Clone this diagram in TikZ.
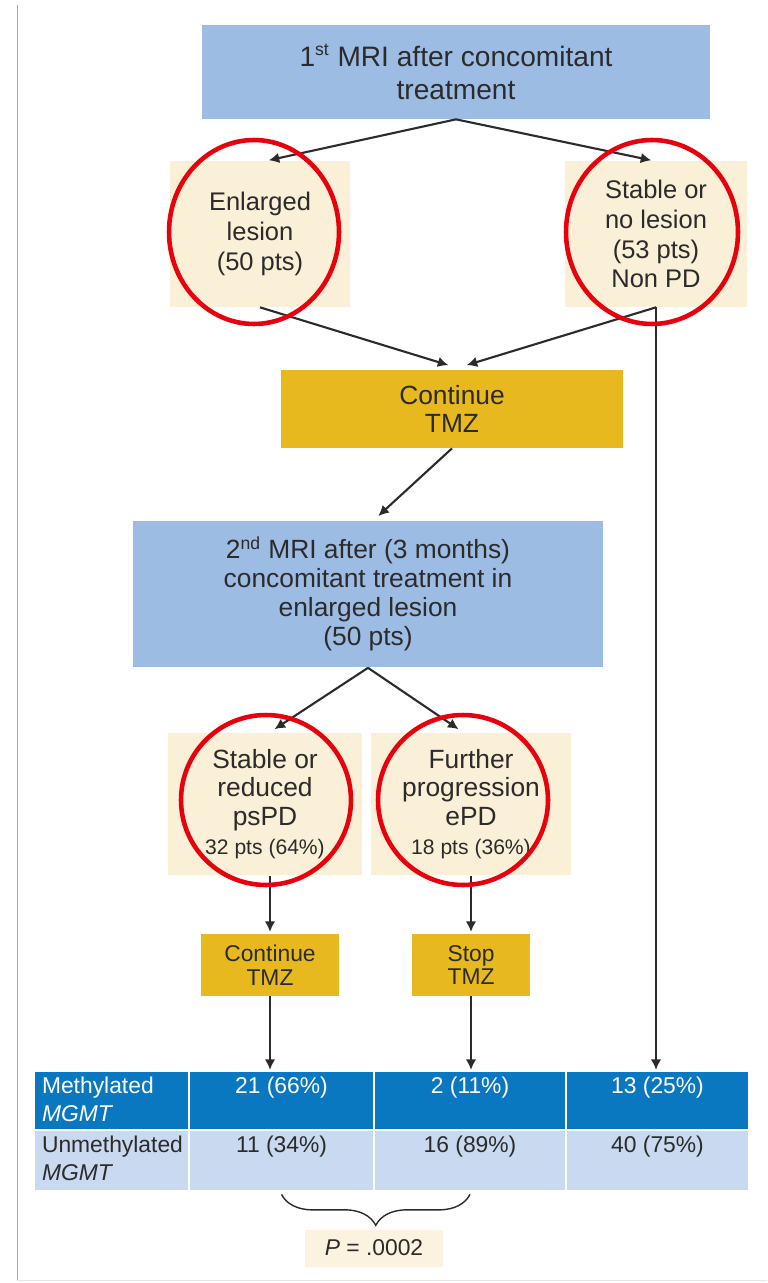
\documentclass[tikz,border=0pt]{standalone}
\usepackage{fontspec}
\setmainfont{Liberation Sans}
\usepackage{xcolor}
\usetikzlibrary{arrows.meta,decorations.pathreplacing}
\definecolor{mriblue}{HTML}{9DBCE3}
\definecolor{cream}{HTML}{FAEFD7}
\definecolor{gold}{HTML}{E7B91F}
\definecolor{tabdark}{HTML}{0A77C1}
\definecolor{tablight}{HTML}{C9D9EF}
\definecolor{ringred}{HTML}{E8000C}
\definecolor{ink}{HTML}{2B2B2B}

\begin{document}
\begin{tikzpicture}[x=0.02cm,y=-0.02cm,
  mri/.style={fill=mriblue,text=ink,align=center,inner sep=0pt},
  lesion/.style={fill=cream,text=ink,align=center,inner sep=0pt},
  tmz/.style={fill=gold,text=ink,align=center,inner sep=0pt},
  ring/.style={draw=ringred,line width=2.6pt},
  arr/.style={draw=ink,line width=1.2pt,-{Latex[length=6pt,width=6pt]},shorten >=1pt},
  rowdark/.style={fill=tabdark,inner sep=0pt,minimum height=1.14cm},
  rowlight/.style={fill=tablight,inner sep=0pt,minimum height=1.18cm},
  numdark/.style={anchor=north,inner sep=0pt,yshift=-0.1cm,text=white,font=\fontsize{13}{16}\selectfont},
  numlight/.style={anchor=north,inner sep=0pt,yshift=-0.1cm,text=ink,font=\fontsize{13}{16}\selectfont}]
\useasboundingbox (0,0) rectangle (767,1283);
\draw [gray!70] (17,5) -- (17,1281);
\draw [gray!20] (17,1280) -- (767,1280);

\node [mri,minimum width=10.16cm,minimum height=1.88cm,font=\fontsize{16}{18.5}\selectfont] (mri1) at (456,72)
  {1\textsuperscript{\fontsize{10}{10}\selectfont st} MRI after concomitant\\treatment};
\node [lesion,minimum width=3.62cm,minimum height=2.92cm,font=\fontsize{14.5}{17}\selectfont] (enl) at (260,234)
  {Enlarged\\lesion\\(50 pts)};
\node [lesion,minimum width=3.66cm,minimum height=2.92cm,font=\fontsize{14.5}{17}\selectfont] (stab) at (656,234)
  {Stable or\\no lesion\\(53 pts)\\Non PD};
\node [tmz,minimum width=6.86cm,minimum height=1.56cm,font=\fontsize{15}{16}\selectfont] (cont1) at (452,409)
  {Continue\\TMZ};
\node [mri,minimum width=9.4cm,minimum height=2.94cm,font=\fontsize{15}{16.6}\selectfont] (mri2) at (368,594)
  {2\textsuperscript{\fontsize{10}{10}\selectfont nd} MRI after (3 months)\\concomitant treatment in\\enlarged lesion\\(50 pts)};
\node [lesion,minimum width=3.9cm,minimum height=2.86cm,font=\fontsize{15}{16.4}\selectfont] (sr) at (265,804)
  {Stable or\\reduced\\psPD\\{\fontsize{12}{14}\selectfont 32 pts (64\%)}};
\node [lesion,minimum width=4cm,minimum height=2.86cm,font=\fontsize{15}{16.4}\selectfont] (fp) at (471,804)
  {Further\\progression\\ePD\\{\fontsize{12}{14}\selectfont 18 pts (36\%)}};
\node [tmz,minimum width=2.76cm,minimum height=1.24cm,font=\fontsize{13}{13.6}\selectfont] (cont2) at (270,965)
  {Continue\\TMZ};
\node [tmz,minimum width=2.36cm,minimum height=1.24cm,font=\fontsize{13}{13.6}\selectfont] (stop) at (471,965)
  {Stop\\TMZ};

\node [rowdark,minimum width=3.06cm,label={[anchor=north west,align=left,inner sep=0pt,xshift=0.14cm,yshift=-0.1cm,text=white,font=\fontsize{13}{16}\selectfont]north west:Methylated\\\textit{MGMT}}] (m0) at (111.5,1100.5) {};
\node [rowdark,minimum width=3.66cm,label={[numdark]north:21 (66\%)}] (m1) at (281.5,1100.5) {};
\node [rowdark,minimum width=3.8cm,label={[numdark]north:2 (11\%)}] (m2) at (470,1100.5) {};
\node [rowdark,minimum width=3.62cm,label={[numdark]north:13 (25\%)}] (m3) at (657.5,1100.5) {};
\node [rowlight,minimum width=3.06cm,label={[anchor=north west,align=left,inner sep=0pt,xshift=0.14cm,yshift=-0.1cm,text=ink,font=\fontsize{13}{16}\selectfont]north west:Unmethylated\\\textit{MGMT}}] (u0) at (111.5,1160.5) {};
\node [rowlight,minimum width=3.66cm,label={[numlight]north:11 (34\%)}] (u1) at (281.5,1160.5) {};
\node [rowlight,minimum width=3.8cm,label={[numlight]north:16 (89\%)}] (u2) at (470,1160.5) {};
\node [rowlight,minimum width=3.62cm,label={[numlight]north:40 (75\%)}] (u3) at (657.5,1160.5) {};

\node [fill=cream!80,text=ink,inner sep=0pt,minimum width=2.76cm,minimum height=0.74cm,font=\fontsize{13}{15}\selectfont] (pval) at (374,1248)
  {\textit{P} = .0002};

\draw [arr] (mri1.south) -- ([xshift=0.14cm]enl.north);
\draw [arr] (mri1.south) -- ([xshift=-0.06cm]stab.north);
\draw [arr] (enl.south) -- ([xshift=-0.04cm,yshift=0.08cm]cont1.north);
\draw [arr] (stab.south) -- ([xshift=0.26cm,yshift=0.08cm]cont1.north);
\draw [arr] (stab.south) -- (stab.south |- m3.north);
\draw [arr] (cont1.south) -- ([xshift=0.18cm,yshift=0.06cm]mri2.north);
\draw [arr] (mri2.south) -- ([xshift=0.16cm,yshift=0.04cm]sr.north);
\draw [arr] (mri2.south) -- ([xshift=-0.22cm,yshift=0.04cm]fp.north);
\draw [arr] (cont2.north |- sr.south) -- (cont2.north);
\draw [arr] (stop.north |- fp.south) -- (stop.north);
\draw [arr] (cont2.south) -- (cont2.south |- m1.north);
\draw [arr] (stop.south) -- (stop.south |- m2.north);

\draw [ink,line width=0.8pt,decorate,decoration={brace,mirror,amplitude=0.62cm}]
  ([yshift=-0.08cm]u1.south) -- ([yshift=-0.08cm]u2.south);

\draw [ring] ([xshift=-0.12cm,yshift=0.04cm]enl.center) ellipse (1.7cm and 1.84cm);
\draw [ring] ([xshift=-0.08cm,yshift=0.04cm]stab.center) ellipse (1.72cm and 1.84cm);
\draw [ring] ([xshift=0.02cm,yshift=0.08cm]sr.center) circle (1.7cm);
\draw [ring] ([xshift=-0.16cm,yshift=0.08cm]fp.center) circle (1.7cm);
\end{tikzpicture}
\end{document}
